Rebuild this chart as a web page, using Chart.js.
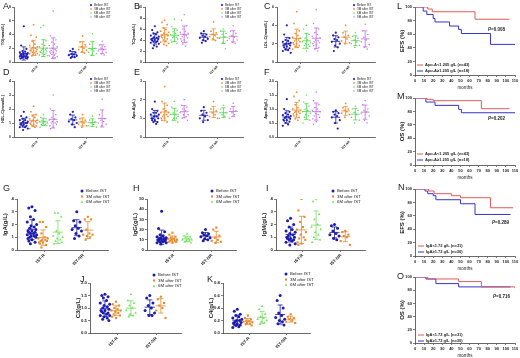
<!DOCTYPE html>
<html>
<head>
<meta charset="utf-8">
<script src="https://cdn.jsdelivr.net/npm/chart.js@4.4.0/dist/chart.umd.min.js"></script>
<style>
  body { margin: 0; background: #fff; }
  #fig { position: relative; width: 520px; height: 358px; overflow: hidden; background: #fff; }
  .tag { position: absolute; font: 9px "Liberation Sans", Arial, sans-serif; color: #222; }
</style>
</head>
<body>
<div id="fig"></div>
<script>
// groups and categories
const groups4 = ['Before IST', '3M after IST', '6M after IST', '9M after IST'];
const groups3 = ['Before IST', '3M after IST', '6M after IST'];
const cats = ['IST-R', 'IST-NR'];

// A - TG (mmol/L): [before, 3M, 6M, 9M]
const tgR = [
	[5.2, 2.4, 1.9, 1.6, 1.5, 1.4, 1.3, 1.3, 1.2, 1.1, 1.1, 1.0, 1.0, 0.9, 0.9, 0.8, 0.8, 0.8, 0.7, 0.7, 0.6, 0.6, 0.5, 0.5],
	[5.4, 3.9, 3.6, 3.0, 2.6, 2.4, 2.2, 2.1, 2.0, 1.9, 1.8, 1.7, 1.6, 1.6, 1.5, 1.4, 1.3, 1.2, 1.2, 1.1, 1.0, 0.9],
	[5.3, 5.0, 3.1, 2.6, 2.4, 2.2, 2.0, 1.9, 1.8, 1.7, 1.6, 1.5, 1.5, 1.4, 1.3, 1.2, 1.1, 1.0, 0.9, 0.8],
	[7.4, 3.8, 3.2, 2.9, 2.6, 2.4, 2.2, 2.0, 1.8, 1.7, 1.6, 1.5, 1.4, 1.3, 1.2, 1.1, 1.0, 0.9, 0.8, 0.7, 0.6]
];
const tgNR = [
	[1.9, 1.6, 1.4, 1.2, 1.1, 1.0, 0.9, 0.8, 0.7, 0.6],
	[3.8, 2.9, 2.5, 2.2, 2.0, 1.8, 1.7, 1.5, 1.3],
	[4.1, 2.6, 2.0, 1.8, 1.6, 1.4, 1.2, 1.0],
	[3.0, 2.5, 2.2, 2.0, 1.8, 1.6, 1.4, 1.2, 1.0]
];

// B - TC (mmol/L)
const tcR = [
	[6.5, 5.8, 5.4, 5.2, 5.0, 4.8, 4.6, 4.5, 4.4, 4.3, 4.2, 4.1, 4.0, 3.9, 3.8, 3.7, 3.6, 3.5, 3.3, 3.0, 2.8, 2.5],
	[7.6, 7.2, 6.8, 6.2, 5.9, 5.6, 5.4, 5.2, 5.0, 4.9, 4.8, 4.7, 4.5, 4.4, 4.2, 4.0, 3.8, 3.6, 3.4, 3.2, 3.0],
	[7.8, 6.4, 5.8, 5.5, 5.2, 5.0, 4.8, 4.6, 4.5, 4.4, 4.2, 4.0, 3.8, 3.6, 3.4],
	[8.6, 7.6, 6.6, 6.0, 5.6, 5.4, 5.2, 5.0, 4.8, 4.6, 4.4, 4.2, 4.0, 3.8, 3.6, 3.2, 2.9]
];
const tcNR = [
	[5.6, 5.2, 5.0, 4.8, 4.6, 4.4, 4.2, 4.0, 3.8, 3.5],
	[7.3, 5.6, 5.3, 5.0, 4.8, 4.6, 4.4, 4.2, 3.9],
	[6.0, 5.6, 5.2, 5.0, 4.6, 4.3, 3.9, 3.5, 2.4],
	[6.6, 5.6, 5.2, 4.8, 4.5, 4.3, 4.0, 3.6, 3.4]
];

// C - LDL-C (mmol/L)
const ldlR = [
	[4.0, 3.0, 2.6, 2.4, 2.3, 2.2, 2.1, 2.0, 2.0, 1.9, 1.8, 1.8, 1.7, 1.6, 1.5, 1.4, 1.3, 1.2, 1.0],
	[5.5, 4.2, 3.4, 3.1, 2.9, 2.7, 2.6, 2.5, 2.4, 2.3, 2.2, 2.1, 2.0, 1.9, 1.8, 1.7, 1.6, 1.4],
	[4.0, 3.6, 3.0, 2.6, 2.4, 2.2, 2.1, 2.0, 1.9, 1.8, 1.7, 1.5, 1.2],
	[5.7, 4.2, 3.6, 3.2, 3.0, 2.8, 2.6, 2.4, 2.3, 2.2, 2.1, 2.0, 1.9, 1.8, 1.6, 1.4, 1.2]
];
const ldlNR = [
	[3.2, 2.9, 2.7, 2.5, 2.4, 2.2, 2.0, 1.8, 1.6, 1.2],
	[4.0, 3.2, 2.9, 2.7, 2.5, 2.3, 2.1, 2.0],
	[3.2, 2.8, 2.6, 2.4, 2.2, 2.0, 1.8, 1.6],
	[4.1, 3.4, 3.0, 2.7, 2.4, 2.2, 1.9, 1.6, 1.4]
];

// D - HDL-C (mmol/L)
const hdlR = [
	[1.8, 1.5, 1.4, 1.3, 1.2, 1.2, 1.1, 1.1, 1.0, 1.0, 1.0, 0.9, 0.9, 0.9, 0.8, 0.8, 0.7, 0.7, 0.6, 0.5],
	[2.2, 1.8, 1.6, 1.5, 1.4, 1.3, 1.2, 1.2, 1.1, 1.1, 1.0, 1.0, 0.9, 0.9, 0.8, 0.8, 0.7, 0.6],
	[1.6, 1.4, 1.3, 1.2, 1.1, 1.1, 1.0, 1.0, 0.9, 0.9, 0.8, 0.7],
	[3.0, 2.0, 1.6, 1.4, 1.3, 1.2, 1.1, 1.1, 1.0, 1.0, 0.9, 0.8, 0.7, 0.6]
];
const hdlNR = [
	[1.8, 1.6, 1.4, 1.3, 1.2, 1.1, 1.0, 0.9, 0.7],
	[1.6, 1.3, 1.2, 1.1, 1.0, 0.9, 0.8, 0.7],
	[1.5, 1.2, 1.1, 1.0, 0.9, 0.8, 0.7],
	[2.7, 1.6, 1.3, 1.2, 1.1, 1.0, 0.9, 0.8]
];

// E - Apo-A (g/L)
const apoaR = [
	[1.9, 1.5, 1.4, 1.3, 1.3, 1.2, 1.2, 1.1, 1.1, 1.0, 1.0, 1.0, 0.9, 0.9, 0.8, 0.8, 0.7],
	[2.7, 1.9, 1.7, 1.5, 1.4, 1.3, 1.3, 1.2, 1.2, 1.1, 1.1, 1.0, 1.0, 0.9, 0.8],
	[1.9, 1.6, 1.4, 1.3, 1.2, 1.2, 1.1, 1.0, 1.0, 0.9, 0.8],
	[2.0, 1.7, 1.6, 1.5, 1.4, 1.3, 1.2, 1.2, 1.1, 1.0, 0.9]
];
const apoaNR = [
	[1.6, 1.4, 1.3, 1.2, 1.1, 1.0, 0.9, 0.8],
	[1.9, 1.5, 1.4, 1.3, 1.2, 1.1, 1.0],
	[1.7, 1.5, 1.3, 1.2, 1.1, 1.0],
	[1.8, 1.5, 1.4, 1.3, 1.2, 1.0]
];

// F - Apo-B (g/L)
const apobR = [
	[1.35, 1.0, 0.9, 0.85, 0.8, 0.78, 0.75, 0.72, 0.7, 0.68, 0.65, 0.62, 0.6, 0.58, 0.55, 0.5, 0.45, 0.4],
	[1.6, 1.45, 1.3, 1.15, 1.05, 1.0, 0.95, 0.92, 0.9, 0.88, 0.85, 0.82, 0.8, 0.75, 0.7, 0.65, 0.6],
	[1.5, 1.25, 1.1, 1.0, 0.95, 0.9, 0.85, 0.8, 0.75, 0.7, 0.6, 0.5],
	[1.6, 1.3, 1.15, 1.05, 1.0, 0.95, 0.9, 0.85, 0.8, 0.75, 0.7, 0.65, 0.55, 0.45]
];
const apobNR = [
	[0.95, 0.9, 0.85, 0.8, 0.75, 0.7, 0.6, 0.5, 0.3],
	[1.2, 1.05, 1.0, 0.95, 0.9, 0.85, 0.8, 0.7],
	[1.1, 1.0, 0.95, 0.88, 0.8, 0.7, 0.6, 0.5],
	[1.3, 1.15, 1.0, 0.95, 0.9, 0.85, 0.75, 0.6, 0.5]
];

// G - IgA (g/L): [before, 3M, 6M]
const igaR = [
	[3.4, 3.3, 3.1, 2.6, 2.4, 2.2, 2.0, 1.9, 1.8, 1.7, 1.6, 1.5, 1.5, 1.4, 1.4, 1.3, 1.3, 1.2, 1.2, 1.1, 1.1, 1.0, 1.0, 0.9, 0.8, 0.7, 0.6, 0.5],
	[2.2, 2.2, 1.8, 1.3, 1.0, 0.9, 0.9, 0.8, 0.8, 0.7, 0.7, 0.6, 0.6, 0.5, 0.4, 0.2],
	[2.9, 2.9, 2.6, 1.5, 1.3, 1.1, 1.0, 0.9, 0.8, 0.7, 0.6, 0.5]
];
const igaNR = [
	[3.0, 2.3, 2.2, 1.9, 1.7, 1.6, 1.5, 1.3, 1.1, 0.9],
	[2.6, 2.4, 2.4, 1.6, 1.3, 1.2, 1.2, 1.1, 1.0, 0.8]
];

// H - IgG (g/L)
const iggR = [
	[38, 21, 18, 15, 14, 13, 12, 12, 11, 11, 10, 10, 10, 9, 9, 8, 8, 7, 7, 6],
	[17, 15, 13, 12, 11, 11, 10, 10, 9, 9, 8, 8, 7],
	[16, 14, 13, 12, 11, 10, 10, 9, 9, 8, 7]
];
const iggNR = [
	[20, 17, 16, 15, 14, 13, 12, 11, 10, 9],
	[22, 20, 14, 12, 10, 9, 8, 7]
];

// I - IgM (g/L)
const igmR = [
	[2.5, 2.3, 2.0, 1.8, 1.6, 1.5, 1.4, 1.3, 1.2, 1.1, 1.0, 1.0, 0.9, 0.9, 0.8, 0.8, 0.7, 0.6, 0.5, 0.4],
	[4.0, 3.1, 2.6, 2.2, 1.8, 1.6, 1.4, 1.2, 1.0, 0.9, 0.8, 0.6, 0.5, 0.4],
	[4.0, 3.8, 2.8, 2.4, 2.0, 1.8, 1.6, 1.4, 1.2, 1.0, 0.8, 0.6]
];
const igmNR = [
	[2.0, 1.9, 1.7, 1.5, 1.3, 1.2, 1.1, 0.9, 0.8],
	[1.5, 1.4, 1.2, 1.1, 1.0, 0.7, 0.4]
];

// J - C3 (g/L)
const c3R = [
	[1.55, 1.5, 1.45, 1.4, 1.3, 1.2, 1.15, 1.1, 1.05, 1.0, 0.95, 0.9, 0.9, 0.85, 0.8, 0.8, 0.75, 0.7, 0.7, 0.65, 0.6, 0.55, 0.5],
	[1.25, 1.15, 1.1, 1.0, 0.95, 0.9, 0.9, 0.85, 0.8, 0.75, 0.7, 0.65, 0.6],
	[1.55, 1.3, 1.2, 1.1, 1.0, 0.9, 0.8, 0.75, 0.7, 0.65]
];
const c3NR = [
	[1.5, 1.4, 1.2, 1.1, 1.0, 0.9, 0.8, 0.7, 0.7],
	[1.45, 1.35, 1.2, 1.1, 1.0, 0.9, 0.6]
];

// K - C4 (g/L)
const c4R = [
	[0.38, 0.35, 0.3, 0.28, 0.26, 0.24, 0.22, 0.2, 0.2, 0.18, 0.17, 0.16, 0.15, 0.14, 0.13, 0.12, 0.1, 0.09],
	[0.28, 0.24, 0.22, 0.2, 0.19, 0.18, 0.17, 0.16, 0.15, 0.14, 0.12],
	[0.43, 0.38, 0.3, 0.26, 0.24, 0.22, 0.2, 0.18, 0.16, 0.14]
];
const c4NR = [
	[0.6, 0.52, 0.4, 0.32, 0.28, 0.25, 0.22, 0.2, 0.18, 0.15, 0.13],
	[0.3, 0.26, 0.24, 0.22, 0.2, 0.18, 0.16]
];

// Kaplan-Meier curves: months and survival (%)
const efsApoLowT = [0, 14, 19, 66, 104];
const efsApoLowS = [100, 97, 93, 82, 82];
const efsApoHighT = [0, 9, 13, 20, 22, 38, 48, 51, 83, 110];
const efsApoHighS = [100, 94, 89, 83, 78, 72, 67, 61, 45, 45];
const osApoLowT = [0, 13, 20, 73, 104];
const osApoLowS = [100, 98, 96, 84, 84];
const osApoHighT = [0, 12, 22, 48, 51, 110];
const osApoHighS = [100, 94, 89, 83, 78, 78];
const efsIgaLowT = [0, 15, 21, 40, 50, 83, 108];
const efsIgaLowS = [100, 97, 93, 90, 87, 72, 72];
const efsIgaHighT = [0, 11, 14, 20, 23, 50, 66, 105];
const efsIgaHighS = [100, 97, 93, 90, 84, 78, 62, 62];
const osIgaLowT = [0, 14, 48, 73, 110];
const osIgaLowS = [100, 97, 93, 85, 83];
const osIgaHighT = [0, 12, 23, 48, 105];
const osIgaHighS = [100, 97, 90, 85, 85];

const FF = '"Liberation Sans", Arial, sans-serif';
const colors4 = ['#1f1fb4', '#f0892c', '#4fd64f', '#c46be6'];
const colors3 = ['#1c1cae', '#ea8a2e', '#72e05a'];
const styles4 = ['circle', 'rect', 'triangle', 'triangle'];
const kmRed = '#e05a5a';
const kmBlue = '#3434d4';
const jit = [0, -0.3, 0.3, -0.15, 0.15, -0.45, 0.45, -0.08, 0.22, -0.22, 0.38, -0.38];

const fig = document.getElementById('fig');

function addCanvas(left, top, w, h) {
	const c = document.createElement('canvas');
	c.width = w;
	c.height = h;
	c.style.cssText = `position:absolute;left:${left}px;top:${top}px;width:${w}px;height:${h}px`;
	fig.appendChild(c);
	return c;
}

function tag(letter, x, y) {
	const d = document.createElement('div');
	d.className = 'tag';
	d.style.left = x + 'px';
	d.style.top = y + 'px';
	d.textContent = letter;
	fig.appendChild(d);
}

// mean +/- SD bars for each cluster
const errBars = {
	id: 'errBars',
	afterDatasetsDraw(chart, args, o) {
		const { ctx, scales: { x, y } } = chart;
		ctx.save();
		chart.data.datasets.forEach(ds => {
			(ds.clusters || []).forEach(cl => {
				const n = cl.v.length;
				const m = cl.v.reduce((a, b) => a + b, 0) / n;
				const sd = Math.sqrt(cl.v.reduce((a, b) => a + (b - m) * (b - m), 0) / (n - 1));
				const xc = x.getPixelForValue(cl.x);
				const hw = x.getPixelForValue(cl.x + o.half) - xc;
				const cw = x.getPixelForValue(cl.x + o.cap) - xc;
				const top = Math.min(m + sd, y.max);
				const bot = Math.max(m - sd, 0);
				const ym = y.getPixelForValue(m);
				const yt = y.getPixelForValue(top);
				const yb = y.getPixelForValue(bot);
				ctx.strokeStyle = ds.borderColor;
				ctx.lineWidth = o.width;
				ctx.beginPath();
				ctx.moveTo(xc - hw, ym); ctx.lineTo(xc + hw, ym);
				ctx.moveTo(xc, yt); ctx.lineTo(xc, yb);
				if (top < y.max) { ctx.moveTo(xc - cw, yt); ctx.lineTo(xc + cw, yt); }
				ctx.moveTo(xc - cw, yb); ctx.lineTo(xc + cw, yb);
				ctx.stroke();
			});
		});
		ctx.restore();
	}
};

// small legend drawn at a fixed spot, built from the datasets
const innerLegend = {
	id: 'innerLegend',
	afterDraw(chart, args, o) {
		if (o.x === undefined) return;
		const ctx = chart.ctx;
		ctx.save();
		ctx.font = `${o.bold ? 'bold ' : ''}${o.size}px ${FF}`;
		ctx.textBaseline = 'middle';
		chart.data.datasets.forEach((ds, i) => {
			const yy = o.y + i * o.gap;
			ctx.fillStyle = ds.borderColor;
			ctx.strokeStyle = ds.borderColor;
			if (o.line) {
				ctx.lineWidth = 1;
				ctx.beginPath();
				ctx.moveTo(o.x, yy); ctx.lineTo(o.x + o.line, yy);
				ctx.stroke();
			} else {
				Chart.helpers.drawPoint(ctx, { pointStyle: ds.pointStyle, radius: o.r, borderWidth: 0, rotation: ds.pointRotation || 0 }, o.x, yy);
			}
			ctx.fillStyle = '#222';
			ctx.fillText(ds.label, o.x + o.tx, yy);
		});
		ctx.restore();
	}
};

// P value note
const pNote = {
	id: 'pNote',
	afterDraw(chart, args, o) {
		if (!o.text) return;
		const ctx = chart.ctx;
		ctx.save();
		ctx.fillStyle = '#222';
		ctx.textBaseline = 'middle';
		ctx.font = `italic bold ${o.size}px ${FF}`;
		ctx.fillText('P', o.x, o.y);
		const w = ctx.measureText('P').width;
		ctx.font = `bold ${o.size}px ${FF}`;
		ctx.fillText('=' + o.text, o.x + w, o.y);
		ctx.restore();
	}
};

function axisStyle() {
	return {
		grid: { drawOnChartArea: false, tickLength: 2, color: '#444', lineWidth: 0.7 },
		border: { color: '#444', width: 0.8 }
	};
}

function scatterPanel(p) {
	const left = p.x0 - p.yw, top = p.y0 - p.pt;
	const w = p.x1 - p.x0 + p.yw + p.pr, h = p.y1 - p.y0 + p.pt + p.xh;
	const canvas = addCanvas(left, top, w, h);
	const datasets = p.groups.map((g, gi) => {
		const clusters = [];
		const pts = [];
		[[p.R, p.posR], [p.NR, p.posNR]].forEach(([arr, pos]) => {
			if (!arr[gi]) return;
			clusters.push({ x: pos[gi], v: arr[gi] });
			arr[gi].forEach((v, i) => pts.push({ x: pos[gi] + jit[i % jit.length] * p.spread, y: v }));
		});
		return {
			label: g,
			data: pts,
			clusters: clusters,
			borderColor: p.colors[gi],
			backgroundColor: p.colors[gi],
			pointBackgroundColor: p.colors[gi],
			pointBorderWidth: 0,
			pointRadius: p.r,
			pointStyle: styles4[gi],
			pointRotation: gi === 3 ? 180 : 0
		};
	});
	new Chart(canvas, {
		type: 'scatter',
		data: { datasets },
		options: {
			responsive: false,
			animation: false,
			devicePixelRatio: 1,
			layout: { padding: { top: p.pt, right: p.pr, left: 0, bottom: 0 } },
			plugins: {
				legend: { display: false },
				tooltip: { enabled: false },
				errBars: { half: p.half, cap: p.cap, width: 0.8 },
				innerLegend: { x: p.leg[0] - left, y: p.leg[1] - top, gap: p.legGap, size: p.legSize, r: p.r, tx: p.legTx }
			},
			scales: {
				x: {
					type: 'linear',
					min: 0,
					max: p.xMax,
					afterBuildTicks: s => { s.ticks = p.catX.map(v => ({ value: v })); },
					afterFit: s => { s.height = p.xh; },
					...axisStyle(),
					ticks: {
						autoSkip: false, minRotation: 45, maxRotation: 45, padding: 1, color: '#222',
						font: { size: p.catSize, weight: 'bold', family: FF },
						callback: (v, i) => cats[i]
					}
				},
				y: {
					min: 0,
					max: p.yMax,
					afterFit: s => { s.width = p.yw; },
					...axisStyle(),
					ticks: {
						stepSize: p.yStep, padding: 1, color: '#222',
						font: { size: p.tickSize, weight: 'bold', family: FF },
						callback: v => v.toFixed(p.dec)
					},
					title: {
						display: true, text: p.yTitle, color: '#222',
						font: { size: p.titleSize, weight: 'bold', family: FF },
						padding: { top: p.titlePad, bottom: 0 }
					}
				}
			}
		},
		plugins: [errBars, innerLegend]
	});
}

function kmPanel(p) {
	const yw = 17, xh = 15, pt = 4, pr = 5;
	const left = p.x0 - yw, top = p.y0 - pt;
	const w = p.x1 - p.x0 + yw + pr, h = p.y1 - p.y0 + pt + xh;
	const canvas = addCanvas(left, top, w, h);
	const datasets = p.curves.map(c => ({
		label: c.label,
		data: c.t.map((t, i) => ({ x: t, y: c.s[i] })),
		borderColor: c.color,
		backgroundColor: c.color,
		borderWidth: 1,
		pointRadius: 0,
		showLine: true,
		stepped: 'before'
	}));
	new Chart(canvas, {
		type: 'scatter',
		data: { datasets },
		options: {
			responsive: false,
			animation: false,
			devicePixelRatio: 1,
			layout: { padding: { top: pt, right: pr, left: 0, bottom: 0 } },
			plugins: {
				legend: { display: false },
				tooltip: { enabled: false },
				innerLegend: { x: p.leg[0] - left, y: p.leg[1] - top, gap: 6, size: 4, line: 6, tx: 8, bold: true },
				pNote: { text: p.pval, x: p.pPos[0] - left, y: p.pPos[1] - top, size: 4.5 }
			},
			scales: {
				x: {
					type: 'linear', min: 0, max: 110,
					afterFit: s => { s.height = xh; },
					...axisStyle(),
					ticks: { stepSize: 10, autoSkip: false, maxRotation: 0, padding: 1, color: '#222', font: { size: 4, weight: 'bold', family: FF } },
					title: { display: true, text: 'months', color: '#222', font: { size: 4.5, family: FF }, padding: 0 }
				},
				y: {
					min: 0, max: 100,
					afterFit: s => { s.width = yw; },
					...axisStyle(),
					ticks: { stepSize: 20, padding: 1, color: '#222', font: { size: 4, weight: 'bold', family: FF } },
					title: { display: true, text: p.yTitle, color: '#222', font: { size: 6, weight: 'bold', family: FF }, padding: { top: 1, bottom: 0 } }
				}
			}
		},
		plugins: [innerLegend, pNote]
	});
}

// panels A-F
const baseAF = {
	groups: groups4, colors: colors4, yw: 14, xh: 18, pt: 7, pr: 8,
	posR: [1, 2, 3, 4], posNR: [6, 7, 8, 9], xMax: 10, catX: [2.4, 7.4],
	spread: 0.9, half: 0.45, cap: 0.22, r: 1.1,
	legGap: 4, legSize: 3, legTx: 3,
	catSize: 3.2, tickSize: 3.5, titleSize: 3.8, titlePad: 1
};
scatterPanel({ ...baseAF, x0: 14, x1: 112, y0: 7, y1: 62, yMax: 8, yStep: 2, dec: 0, yTitle: 'TG(mmol/L)', R: tgR, NR: tgNR, leg: [91, 5] });
scatterPanel({ ...baseAF, x0: 145, x1: 243, y0: 7, y1: 62, yMax: 10, yStep: 2, dec: 0, yTitle: 'TC(mmol/L)', R: tcR, NR: tcNR, leg: [222, 5] });
scatterPanel({ ...baseAF, x0: 277, x1: 375, y0: 7, y1: 62, yMax: 6, yStep: 2, dec: 0, yTitle: 'LDL-C(mmol/L)', R: ldlR, NR: ldlNR, leg: [354, 5] });
scatterPanel({ ...baseAF, x0: 14, x1: 112, y0: 81, y1: 137, yMax: 4, yStep: 1, dec: 0, yTitle: 'HDL-C(mmol/L)', R: hdlR, NR: hdlNR, leg: [91, 79] });
scatterPanel({ ...baseAF, x0: 145, x1: 243, y0: 81, y1: 137, yMax: 3, yStep: 1, dec: 0, yTitle: 'Apo-A(g/L)', R: apoaR, NR: apoaNR, leg: [222, 79] });
scatterPanel({ ...baseAF, x0: 277, x1: 375, y0: 81, y1: 137, yMax: 2, yStep: 0.5, dec: 1, yTitle: 'Apo-B(g/L)', R: apobR, NR: apobNR, leg: [354, 79] });

// panels G-K
const baseGK = {
	groups: groups3, colors: colors3, yw: 17, xh: 18, pt: 10, pr: 6,
	posR: [1.15, 2, 3.15], posNR: [4.6, 5.45], xMax: 7, catX: [2.1, 5.1],
	spread: 0.8, half: 0.4, cap: 0.2, r: 1.5,
	legGap: 5.5, legSize: 4.3, legTx: 4,
	catSize: 4.3, tickSize: 4.3, titleSize: 6, titlePad: 2
};
scatterPanel({ ...baseGK, x0: 17, x1: 108, y0: 199, y1: 250, yMax: 4, yStep: 1, dec: 0, yTitle: 'IgA(g/L)', R: igaR, NR: igaNR, leg: [82, 191] });
scatterPanel({ ...baseGK, x0: 147, x1: 236, y0: 199, y1: 250, yMax: 50, yStep: 10, dec: 0, yTitle: 'IgG(g/L)', R: iggR, NR: iggNR, leg: [212, 191] });
scatterPanel({ ...baseGK, x0: 276, x1: 365, y0: 199, y1: 250, yMax: 4, yStep: 1, dec: 0, yTitle: 'IgM(g/L)', R: igmR, NR: igmNR, leg: [333, 191] });
scatterPanel({ ...baseGK, x0: 90, x1: 181, y0: 283, y1: 333, yMax: 2, yStep: 0.5, dec: 1, yTitle: 'C3(g/L)', R: c3R, NR: c3NR, leg: [154, 275] });
scatterPanel({ ...baseGK, pt: 14, x0: 223, x1: 310, y0: 283, y1: 333, yMax: 0.8, yStep: 0.2, dec: 1, yTitle: 'C4(g/L)', R: c4R, NR: c4NR, leg: [286, 274] });

// panels L-O
const apoLow = 'Apo-A<1.205 g/L (n=43)';
const apoHigh = 'Apo-A≥1.205 g/L (n=18)';
const igaLow = 'IgA<1.72 g/L (n=31)';
const igaHigh = 'IgA≥1.72 g/L (n=30)';
kmPanel({ x0: 415, x1: 515, y0: 7, y1: 75, yTitle: 'EFS (%)', pval: '0.008', pPos: [488, 30], leg: [417, 65],
	curves: [{ label: apoLow, t: efsApoLowT, s: efsApoLowS, color: kmRed }, { label: apoHigh, t: efsApoHighT, s: efsApoHighS, color: kmBlue }] });
kmPanel({ x0: 415, x1: 515, y0: 98, y1: 165, yTitle: 'OS (%)', pval: '0.202', pPos: [488, 119], leg: [417, 154],
	curves: [{ label: apoLow, t: osApoLowT, s: osApoLowS, color: kmRed }, { label: apoHigh, t: osApoHighT, s: osApoHighS, color: kmBlue }] });
kmPanel({ x0: 415, x1: 515, y0: 189, y1: 256, yTitle: 'EFS (%)', pval: '0.289', pPos: [492, 223], leg: [418, 246],
	curves: [{ label: igaLow, t: efsIgaLowT, s: efsIgaLowS, color: kmRed }, { label: igaHigh, t: efsIgaHighT, s: efsIgaHighS, color: kmBlue }] });
kmPanel({ x0: 415, x1: 515, y0: 277, y1: 343, yTitle: 'OS (%)', pval: '0.716', pPos: [493, 297], leg: [418, 335],
	curves: [{ label: igaLow, t: osIgaLowT, s: osIgaLowS, color: kmRed }, { label: igaHigh, t: osIgaHighT, s: osIgaHighS, color: kmBlue }] });

// panel letters
[['A', 3, 1], ['B', 134, 1], ['C', 264, 1], ['D', 3, 67], ['E', 134, 67], ['F', 264, 67],
 ['G', 3, 183], ['H', 133, 183], ['I', 266, 183], ['J', 80, 274], ['K', 207, 274],
 ['L', 397, 1], ['M', 397, 91], ['N', 398, 182], ['O', 397, 271]].forEach(t => tag(t[0], t[1], t[2]));
</script>
</body>
</html>
